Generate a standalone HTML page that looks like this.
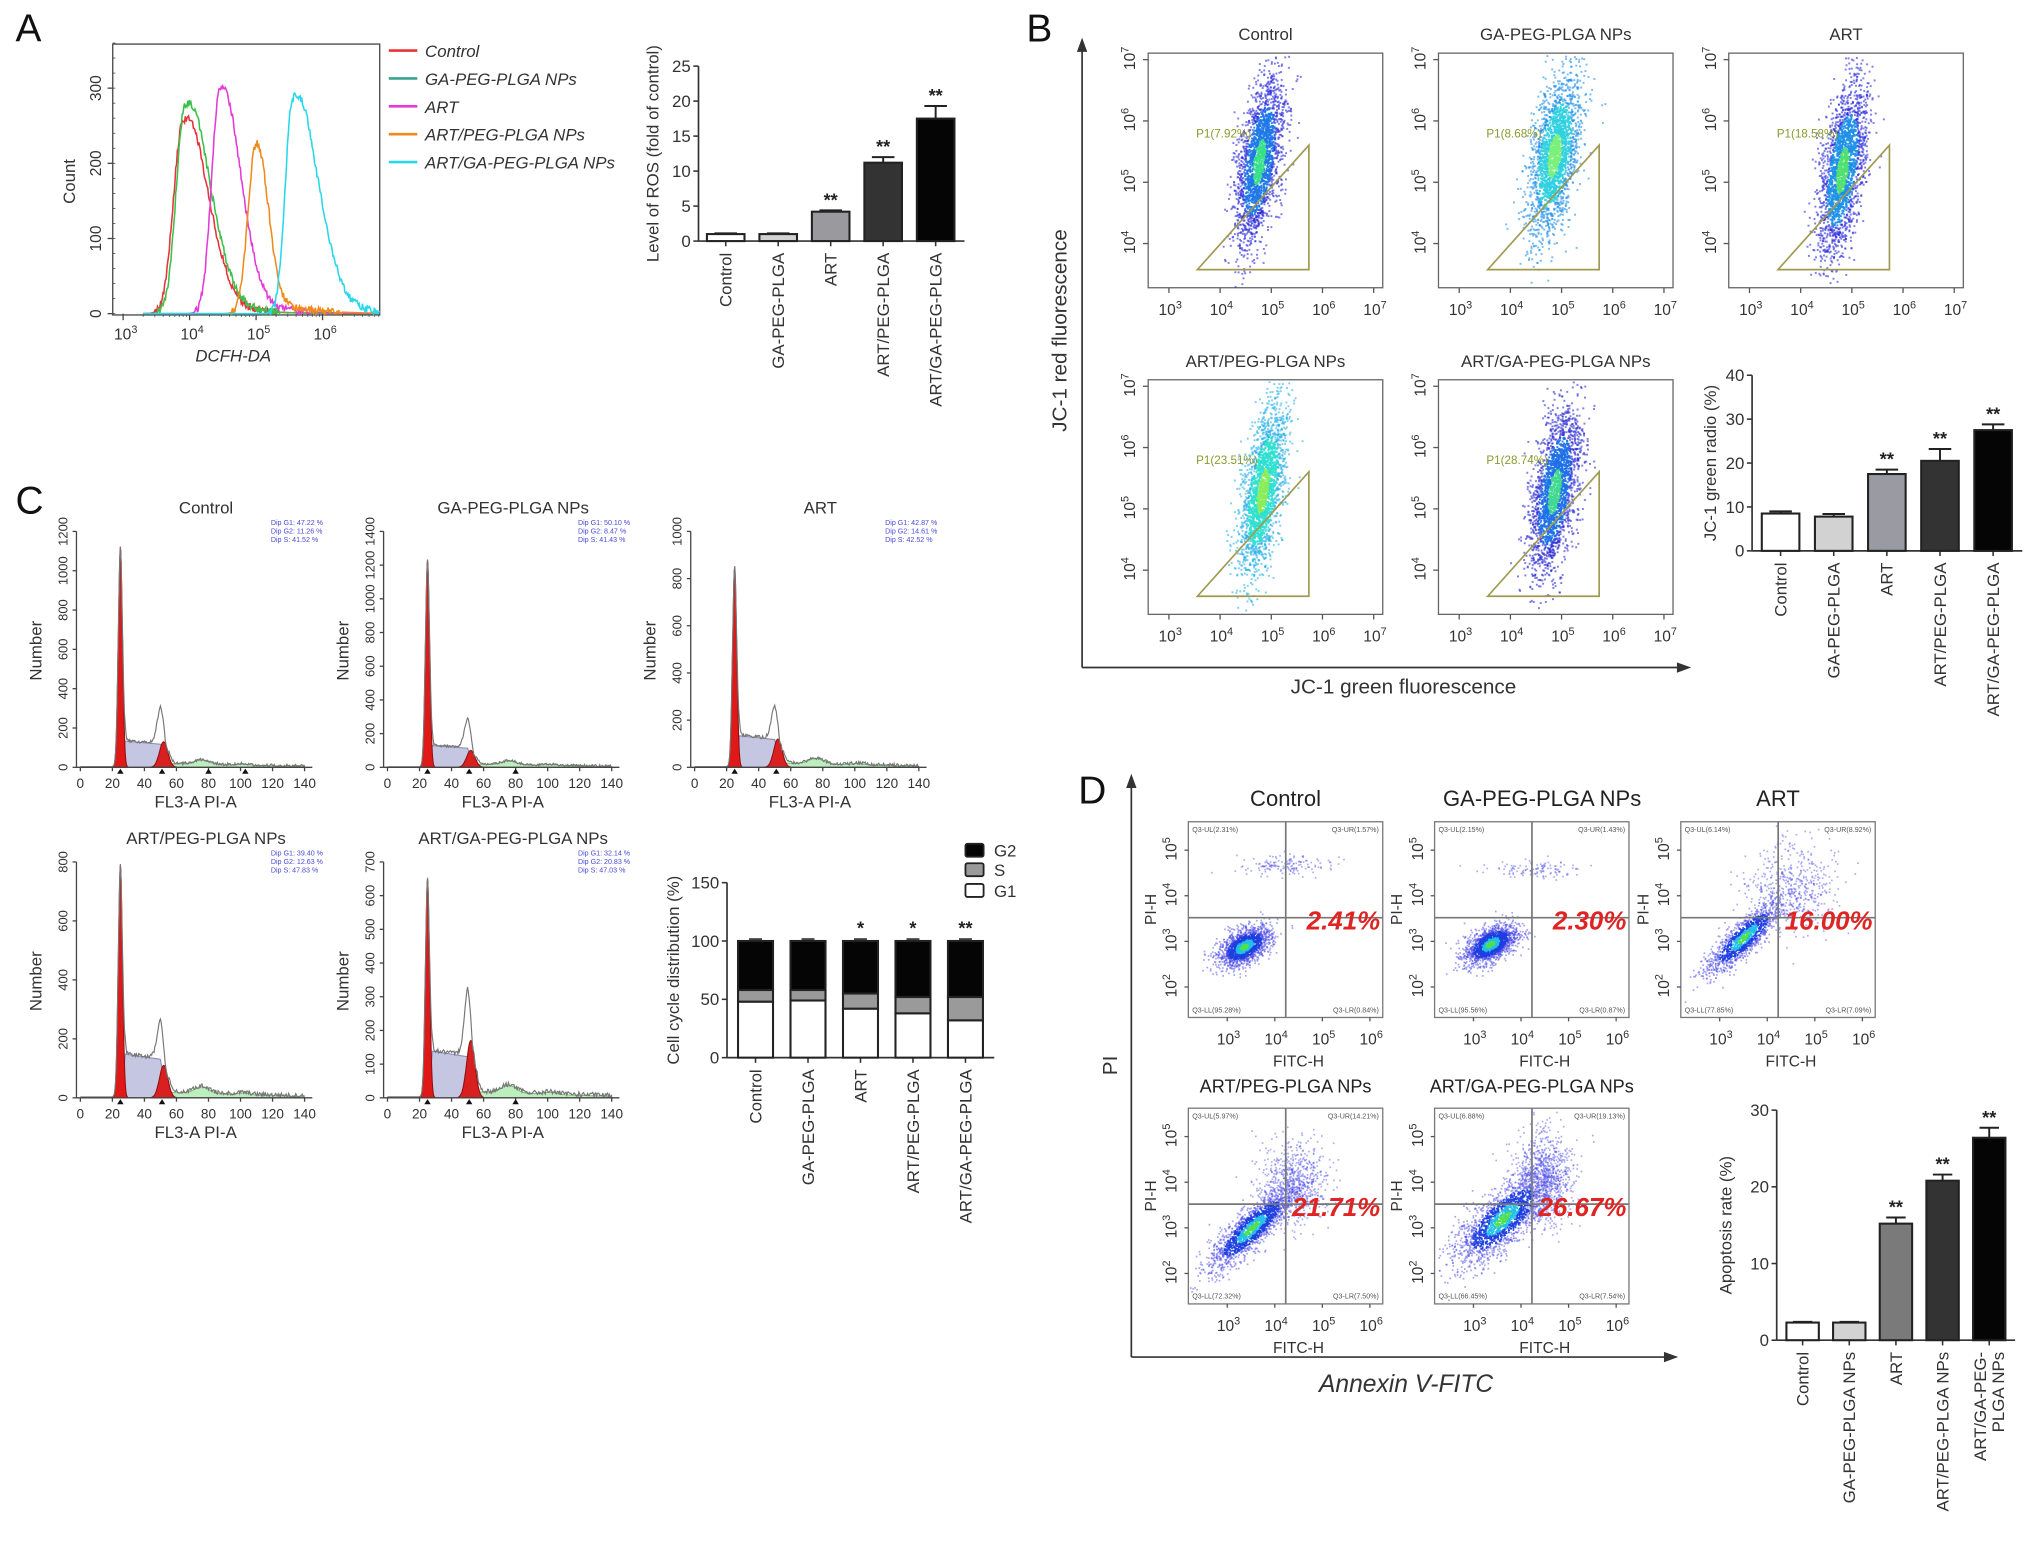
<!DOCTYPE html>
<html><head><meta charset="utf-8">
<style>
html,body{margin:0;padding:0;background:#fff;}
svg{display:block;font-family:"Liberation Sans",Arial,sans-serif;}
</style></head>
<body>
<svg id="fig" width="2032" height="1545" viewBox="0 0 1568 1192" preserveAspectRatio="none" xmlns="http://www.w3.org/2000/svg">
<rect x="0" y="0" width="1568" height="1192" fill="#fff"/>
</svg>
<script>
// ---------------- DATA ----------------
// Panel A ROS bar chart
const rosCats=['Control','GA-PEG-PLGA','ART','ART/PEG-PLGA','ART/GA-PEG-PLGA'];
const rosVals=[1.0,1.0,4.2,11.2,17.5];
const rosErrs=[0.1,0.1,0.2,0.8,1.8];
const rosStars=['','','**','**','**'];
const rosTicks=[0,5,10,15,20,25];
// Panel A histogram legend + peak parameters (log10 centre, peak count)
const histNames=['Control','GA-PEG-PLGA NPs','ART','ART/PEG-PLGA NPs','ART/GA-PEG-PLGA NPs'];
const histPeakLog=[3.9,3.93,4.45,5.0,5.55];
const histPeakCount=[255,275,295,225,285];
const histTicks=[0,100,200,300];
// Panel B JC-1 bar chart
const jcCats=['Control','GA-PEG-PLGA','ART','ART/PEG-PLGA','ART/GA-PEG-PLGA'];
const jcVals=[8.5,7.8,17.5,20.5,27.5];
const jcErrs=[0.5,0.6,1.0,2.7,1.3];
const jcStars=['','','**','**','**'];
const jcTicks=[0,10,20,30,40];
const jcP1=['7.92%','8.68%','18.58%','23.51%','28.74%'];
const jcTitles=['Control','GA-PEG-PLGA NPs','ART','ART/PEG-PLGA NPs','ART/GA-PEG-PLGA NPs'];
// Panel C cell cycle
const ccCats=['Control','GA-PEG-PLGA','ART','ART/PEG-PLGA','ART/GA-PEG-PLGA'];
const ccG1=[48,49,42,38,32];
const ccS=[10,9,13,14,20];
const ccG2=[42,42,45,48,48];
const ccStars=['','','*','*','**'];
const ccTicks=[0,50,100,150];
const ccYmax=[1200,1400,1000,800,700];
const ccG1Peak=[1120,1230,850,790,650];
const ccG2Peak=[130,100,120,110,170];
const ccOutline=[330,310,280,280,350];
const ccSlev=[135,130,135,150,140];
const ccDip=[['47.22','11.26','41.52'],['50.10','8.47','41.43'],['42.87','14.61','42.52'],['39.40','12.63','47.83'],['32.14','20.83','47.03']];
// Panel D apoptosis
const apCats=['Control','GA-PEG-PLGA NPs','ART','ART/PEG-PLGA NPs','ART/GA-PEG-PLGA NPs'];
const apVals=[2.3,2.3,15.2,20.8,26.4];
const apErrs=[0.1,0.1,0.8,0.8,1.3];
const apStars=['','','**','**','**'];
const apTicks=[0,10,20,30];
const apPct=['2.41%','2.30%','16.00%','21.71%','26.67%'];
const apQuad=[['2.31%','1.57%','95.28%','0.84%'],['2.15%','1.43%','95.56%','0.87%'],['6.14%','8.92%','77.85%','7.09%'],['5.97%','14.21%','72.32%','7.50%'],['6.88%','19.13%','66.45%','7.54%']];

// ---------------- HELPERS ----------------
const NS='http://www.w3.org/2000/svg';
const svg=document.getElementById('fig');
function mk(tag,attrs,parent){const e=document.createElementNS(NS,tag);for(const k in attrs)e.setAttribute(k,attrs[k]);(parent||svg).appendChild(e);return e;}
function txt(x,y,s,attrs,parent){const t=mk('text',Object.assign({x:x,y:y},attrs||{}),parent);t.textContent=s;return t;}
function pw(x,y,exp,attrs,parent){const t=mk('text',Object.assign({x:x,y:y},attrs||{}),parent);t.appendChild(document.createTextNode('10'));const ts=document.createElementNS(NS,'tspan');ts.setAttribute('dy','-5');ts.setAttribute('font-size','70%');ts.textContent=exp;t.appendChild(ts);return t;}
let seed=12345;
function rnd(){seed=(seed*1103515245+12345)%2147483648;return seed/2147483648;}
function gauss(){let u=rnd()||1e-6,v=rnd();return Math.sqrt(-2*Math.log(u))*Math.cos(2*Math.PI*v);}
function group(name){const g=mk('g',{});return g;}

function barChart(o){
  const g=group(o.name);
  const ys=v=>o.y0-(v/o.vmax)*(o.y0-o.yTop);
  const n=o.cats.length;
  const ax=mk('line',{x1:o.ax,y1:o.y0,x2:o.ax,y2:ys(o.vmax),stroke:'#333','stroke-width':1.3},g);
  
  const xl=mk('line',{x1:o.ax,y1:o.y0,x2:o.c0+o.step*(n-1)+o.step/2+2,y2:o.y0,stroke:'#333','stroke-width':1.3},g);
  
  o.ticks.forEach(t=>{mk('line',{x1:o.ax-4,y1:ys(t),x2:o.ax,y2:ys(t),stroke:'#333','stroke-width':1.2},g);
    const tl=txt(o.ax-6,ys(t)+4.5,String(t),{'font-size':o.fs||13,'text-anchor':'end',fill:'#333'},g);
    });
  for(let i=0;i<n;i++){
    const cx=o.c0+o.step*i;
    mk('line',{x1:cx,y1:o.y0,x2:cx,y2:o.y0+4,stroke:'#333','stroke-width':1.2},g);
    if(o.stack){
      let base=0;
      o.stack.forEach((arr,k)=>{const r=mk('rect',{x:cx-o.w/2,y:ys(base+arr[i]),width:o.w,height:ys(base)-ys(base+arr[i]),fill:o.stackFill[k],stroke:'#222','stroke-width':1.6},g);
        base+=arr[i];});
      mk('line',{x1:cx-5,y1:ys(base)-1.5,x2:cx+5,y2:ys(base)-1.5,stroke:'#222','stroke-width':1.2},g);
      if(o.stars[i]){const st=txt(cx,ys(base)-5,o.stars[i],{'font-size':14,'text-anchor':'middle',fill:'#222','font-weight':'bold'},g);}
    } else {
      const v=o.vals[i],e=o.errs[i];
      mk('line',{x1:cx,y1:ys(v),x2:cx,y2:ys(v+e),stroke:'#222','stroke-width':1.5},g);
      mk('line',{x1:cx-o.w*0.3,y1:ys(v+e),x2:cx+o.w*0.3,y2:ys(v+e),stroke:'#222','stroke-width':1.5},g);
      const r=mk('rect',{x:cx-o.w/2,y:ys(v),width:o.w,height:ys(0)-ys(v),fill:o.fills[i],stroke:'#222','stroke-width':1.6},g);
      
      if(o.stars[i]){const st=txt(cx,ys(v+e)-3,o.stars[i],{'font-size':14,'text-anchor':'middle',fill:'#222','font-weight':'bold'},g);}
    }
    const lines=o.cats[i].split('\n');
    lines.forEach((ln,j)=>{const yy=o.y0+9,xx=cx+4.5-(lines.length-1-j)*14+ (lines.length>1?7:0);
      const cl=txt(xx,yy,ln,{'font-size':o.fs||13,'text-anchor':'end',fill:'#333',transform:'rotate(-90 '+xx+' '+yy+')'},g);
      });
  }
  const tx=o.titleX,ty=(o.y0+o.yTop)/2+o.titleDy;
  const tt=txt(tx,ty,o.title,{'font-size':o.fs||13,'text-anchor':'middle',fill:'#333',transform:'rotate(-90 '+tx+' '+ty+')'},g);
  
}

function panelLetter(x,y,s){const t=txt(x,y,s,{'font-size':30,fill:'#111'});}

// ---------------- PANEL A ----------------
panelLetter(12,32,'A');
(function(){
  const g=group('ros-histogram');
  const X0=87,X1=293,Y0=242,YT=34;
  const xs=l=>95+(l-3)*51.3, ys=c=>Y0-c*0.58;
  mk('rect',{x:X0,y:YT,width:X1-X0,height:Y0-YT+1,fill:'none',stroke:'#444','stroke-width':1},g);
  histTicks.forEach(t=>{mk('line',{x1:X0-4,y1:ys(t),x2:X0,y2:ys(t),stroke:'#444'},g);
    const yy=ys(t),xx=78;const tl=txt(xx,yy,String(t),{'font-size':12,'text-anchor':'middle',fill:'#333',transform:'rotate(-90 '+xx+' '+yy+')'},g);});
  for(let c=0;c<=360;c+=20)mk('line',{x1:X0,y1:ys(c),x2:X0+2,y2:ys(c),stroke:'#444','stroke-width':0.6},g);
  [3,4,5,6].forEach(e=>{mk('line',{x1:xs(e),y1:Y0,x2:xs(e),y2:Y0+5,stroke:'#444'},g);
    for(let k=2;k<10;k++){const xx=xs(e+Math.log10(k));if(xx<X1)mk('line',{x1:xx,y1:Y0,x2:xx,y2:Y0+2.5,stroke:'#444','stroke-width':0.6},g);}
    const tl=pw(xs(e)-7,Y0+20,String(e),{'font-size':12,fill:'#333'},g);});
  const xt=txt(180,279,'DCFH-DA',{'font-size':13,'font-style':'italic','text-anchor':'middle',fill:'#333'},g);
  const yt=txt(58,140,'Count',{'font-size':13,'text-anchor':'middle',fill:'#333',transform:'rotate(-90 58 140)'},g);
  const cols=['#e8333a','#3cc04b','#e43ad8','#f08a1c','#28d8ea'];
  const legCols=['#e8333a','#3aa28f','#e43ad8','#f08a1c','#28d8ea'];
  const sigL=[0.14,0.13,0.12,0.12,0.11],sigR=[0.36,0.36,0.3,0.17,0.36];
  histNames.forEach((nm,i)=>{
    let d='';seed=100+i*77;
    for(let l=3.3;l<=6.86;l+=0.012){const dl=l-histPeakLog[i];const s=dl<0?sigL[i]:sigR[i];
      let c=histPeakCount[i]*Math.exp(-dl*dl/(2*s*s));if(dl>0)c+=histPeakCount[i]*0.12*Math.exp(-dl/0.5)*(dl>0.2?1:dl/0.2);c+= (c>2? (rnd()-0.5)*10:0);if(c<0)c=0;
      d+=(d?'L':'M')+xs(l).toFixed(1)+' '+ys(c).toFixed(1);}
    const p=mk('path',{d:d,fill:'none',stroke:cols[i],'stroke-width':1.2},g);
    
    const ly=39+i*21.5;
    mk('line',{x1:300,y1:ly,x2:322,y2:ly,stroke:legCols[i],'stroke-width':2},g);
    const lt=txt(328,ly+5,nm,{'font-size':13,'font-style':'italic',fill:'#333'},g);
  });
})();
barChart({name:'ros-bar-chart',ax:539,y0:186,yTop:51,vmax:25,ticks:rosTicks,c0:560,step:40.5,w:29,cats:rosCats,vals:rosVals,errs:rosErrs,stars:rosStars,fills:['#fff','#d2d2d2','#9a9a9e','#333','#050505'],title:'Level of ROS (fold of control)',titleX:508,titleDy:0,fs:13});

// ---------------- PANEL B ----------------
panelLetter(792,32,'B');
(function(){
  const g=group('jc1-axes');
  mk('line',{x1:835,y1:515,x2:835,y2:36,stroke:'#333','stroke-width':1.3},g);
  mk('path',{d:'M831 40 L835 29 L839 40 Z',fill:'#333'},g);
  mk('line',{x1:835,y1:515,x2:1298,y2:515,stroke:'#333','stroke-width':1.3},g);
  mk('path',{d:'M1294 511 L1305 515 L1294 519 Z',fill:'#333'},g);
  const a=txt(823,255,'JC-1 red fluorescence',{'font-size':16,'text-anchor':'middle',fill:'#333',transform:'rotate(-90 823 255)'},g);
  const b=txt(1083,535,'JC-1 green fluorescence',{'font-size':16,'text-anchor':'middle',fill:'#333'},g);
})();
const jcCloud=[[4.75,5.35,0.2,0.68],[4.85,5.45,0.22,0.66],[4.8,5.2,0.2,0.7],[4.82,5.3,0.19,0.68],[4.85,5.3,0.21,0.68]];
const jcPal=[['#36e08a','#1e78e8','#2a2ad8'],['#7af07a','#30d0e0','#2090e8'],['#50e070','#1e90e8','#2a2ad8'],['#8aec5a','#30e0d0','#28b0e8'],['#40d890','#1e70e8','#2828d0']];
jcTitles.forEach((tt,i)=>{
  const g=group('jc1-scatter-'+i);
  const bx=886+224*(i%3),by=41+252*Math.floor(i/3),bw=181,bh=181;
  const xs=l=>bx+16+(l-3)*39.5, ys=l=>by+5+(7-l)*47.3;
  const t=txt(bx+bw/2,by-10,tt,{'font-size':13,'text-anchor':'middle',fill:'#333'},g);
  mk('rect',{x:bx,y:by,width:bw,height:bh,fill:'#fff',stroke:'#666','stroke-width':1},g);
  [3,4,5,6,7].forEach(e=>{mk('line',{x1:xs(e),y1:by+bh,x2:xs(e),y2:by+bh+4,stroke:'#555'},g);
    const tl=pw(xs(e)-8,by+bh+21,String(e),{'font-size':12,fill:'#333'},g);});
  [4,5,6,7].forEach(e=>{mk('line',{x1:bx-4,y1:ys(e),x2:bx,y2:ys(e),stroke:'#555'},g);
    const xx=bx-10,yy=ys(e)+8;const tl=pw(xx,yy,String(e),{'font-size':12,fill:'#333',transform:'rotate(-90 '+xx+' '+yy+')'},g);});
  seed=900+i*131;const c=jcCloud[i],pal=jcPal[i];
  const cg=mk('g',{},g);
  for(let k=0;k<2200;k++){const a=gauss(),b=gauss();const lx=c[0]+c[2]*a+0.12*b,ly=c[1]+c[3]*b;
    const r=Math.sqrt(a*a+b*b);const col=r<0.55?pal[0]:(r<1.3?pal[1]:pal[2]);
    const px=xs(lx),py=ys(ly);if(px<bx+1||px>bx+bw-1||py<by+1||py>by+bh-1)continue;
    mk('rect',{x:px.toFixed(1),y:py.toFixed(1),width:1.5,height:1.5,fill:col,opacity:r<1.3?0.9:0.6},cg);}
  const gate=mk('path',{d:'M'+(bx+38)+' '+(by+167)+' L'+(bx+124)+' '+(by+167)+' L'+(bx+124)+' '+(by+71)+' Z',fill:'none',stroke:'#a09a50','stroke-width':1.3},g);
  
  const pl=txt(bx+37,by+65,'P1('+jcP1[i]+')',{'font-size':9,fill:'#8a9a30'},g);
});
barChart({name:'jc1-bar-chart',ax:1352,y0:425,yTop:289.5,vmax:40,ticks:jcTicks,c0:1374,step:41,w:29,cats:jcCats,vals:jcVals,errs:jcErrs,stars:jcStars,fills:['#fff','#d2d2d2','#9a9aa2','#333','#050505'],title:'JC-1 green radio (%)',titleX:1324,titleDy:0,fs:13});

// ---------------- PANEL C ----------------
panelLetter(12,396,'C');
const ccTitles=['Control','GA-PEG-PLGA NPs','ART','ART/PEG-PLGA NPs','ART/GA-PEG-PLGA NPs'];
ccTitles.forEach((tt,i)=>{
  const g=group('cell-cycle-histogram-'+i);
  const ax=59+237*(i%3),base=592+255*Math.floor(i/3),top=base-182;
  const xs=u=>ax+3+u*1.236, ys=v=>base-v/ccYmax[i]*182;
  const t=txt(ax+100,top-14,tt,{'font-size':13,'text-anchor':'middle',fill:'#333'},g);
  const g1=u=>ccG1Peak[i]*Math.exp(-Math.pow(u-25,2)/(2*1.3*1.3));
  const g2=u=>ccG2Peak[i]*Math.exp(-Math.pow(u-52,2)/(2*2.6*2.6));
  const sp=u=>(u>26&&u<54)?ccSlev[i]*(1-0.15*(u-26)/28)*(u<28?(u-26)/2:1)*(u>50?(54-u)/4:1):0;
  const g2o=u=>(ccOutline[i]-ccSlev[i]*0.87)*Math.exp(-Math.pow(u-50.5,2)/(2*2.4*2.4));
  const gr=u=>u>55?(18+28*Math.exp(-Math.pow(u-76,2)/40)+10*Math.exp(-Math.pow(u-102,2)/30))*Math.max(0,1-(u-55)/110):0;
  function area(f,u0,u1,fill,stroke,name){let d='M'+xs(u0)+' '+base;for(let u=u0;u<=u1;u+=0.25)d+='L'+xs(u).toFixed(1)+' '+ys(f(u)).toFixed(1);d+='L'+xs(u1)+' '+base+'Z';
    const p=mk('path',{d:d,fill:fill,stroke:stroke,'stroke-width':0.8},g);}
  area(sp,26,54,'#c4c6e2','#8a8ab0','s-phase-area');
  area(gr,55,140,'#bdeebd','#7ac07a','aneuploid-area');
  area(g1,20,30,'#e01818','#901010','g1-peak');
  area(g2,44,60,'#d82020','#901010','g2-peak');
  seed=400+i*51;let d='';
  for(let u=0;u<=140;u+=0.5){let v=g1(u)+Math.max(sp(u)+g2o(u)*0.9,g2(u))+gr(u)+3;v+= (u>27?(rnd()-0.5)*14:0);if(v<0)v=0;d+=(d?'L':'M')+xs(u).toFixed(1)+' '+ys(v).toFixed(1);}
  const ol=mk('path',{d:d,fill:'none',stroke:'#777','stroke-width':0.9},g);
  mk('line',{x1:ax,y1:base,x2:ax,y2:top,stroke:'#444'},g);
  mk('line',{x1:ax,y1:base,x2:ax+182,y2:base,stroke:'#444'},g);
  const step=ccYmax[i]<=700?100:200;
  for(let v=0;v<=ccYmax[i];v+=step){mk('line',{x1:ax-3,y1:ys(v),x2:ax,y2:ys(v),stroke:'#444'},g);
    const xx=ax-7,yy=ys(v);const tl=txt(xx,yy,String(v),{'font-size':10,'text-anchor':'middle',fill:'#333',transform:'rotate(-90 '+xx+' '+yy+')'},g);}
  for(let u=0;u<=140;u+=20){mk('line',{x1:xs(u),y1:base,x2:xs(u),y2:base+3,stroke:'#444'},g);
    const tl=txt(xs(u),base+16,String(u),{'font-size':10.5,'text-anchor':'middle',fill:'#333'},g);}
  [25,51].concat(i===0?[80,103]:(i===1||i===4?[80]:[])).forEach(u=>mk('path',{d:'M'+(xs(u)-2.5)+' '+(base+5)+' L'+xs(u)+' '+(base+1)+' L'+(xs(u)+2.5)+' '+(base+5)+'Z',fill:'#111'},g));
  const xt=txt(ax+92,base+31,'FL3-A PI-A',{'font-size':13,'text-anchor':'middle',fill:'#333'},g);
  const yx=ax-27,yy=base-90;const yt=txt(yx,yy,'Number',{'font-size':13,'text-anchor':'middle',fill:'#333',transform:'rotate(-90 '+yx+' '+yy+')'},g);
  ['Dip G1: '+ccDip[i][0]+' %','Dip G2: '+ccDip[i][1]+' %','Dip S: '+ccDip[i][2]+' %'].forEach((s,k)=>{const d2=txt(ax+150,top-5+k*6.5,s,{'font-size':5.5,fill:'#4848d8'},g);});
});
barChart({name:'cell-cycle-bar-chart',ax:561,y0:816,yTop:681,vmax:150,ticks:ccTicks,c0:583,step:40.5,w:27,cats:ccCats,stack:[ccG1,ccS,ccG2],stackFill:['#fff','#9a9a9a','#050505'],stackNames:['g1','s','g2'],stars:ccStars,title:'Cell cycle distribution (%)',titleX:524,titleDy:0,fs:13});
(function(){const g=group('cell-cycle-legend');
  [['G2','#050505',656],['S','#9a9a9a',671],['G1','#fff',687]].forEach(a=>{mk('rect',{x:745,y:a[2]-5,width:14,height:10,fill:a[1],stroke:'#222','stroke-width':1.4,rx:1.5},g);
    const t=txt(767,a[2]+5,a[0],{'font-size':13,fill:'#333'},g);});})();

// ---------------- PANEL D ----------------
panelLetter(832,620,'D');
(function(){
  const g=group('apoptosis-axes');
  mk('line',{x1:873,y1:1047,x2:873,y2:604,stroke:'#333','stroke-width':1.3},g);
  mk('path',{d:'M869 608 L873 597 L877 608 Z',fill:'#333'},g);
  mk('line',{x1:873,y1:1047,x2:1288,y2:1047,stroke:'#333','stroke-width':1.3},g);
  mk('path',{d:'M1284 1043 L1295 1047 L1284 1051 Z',fill:'#333'},g);
  const a=txt(862,822,'PI',{'font-size':16,'text-anchor':'middle',fill:'#333',transform:'rotate(-90 862 822)'},g);
  const b=txt(1085,1074,'Annexin V-FITC',{'font-size':19,'font-style':'italic','text-anchor':'middle',fill:'#333'},g);
})();
const apTitles=['Control','GA-PEG-PLGA NPs','ART','ART/PEG-PLGA NPs','ART/GA-PEG-PLGA NPs'];
const apBlob=[[3.35,2.9,0.28,0.22,0.5,1600],[3.35,2.95,0.28,0.22,0.5,1600],[3.5,3.1,0.4,0.4,0.85,1300],[3.5,3.0,0.45,0.45,0.85,1700],[3.6,3.2,0.5,0.5,0.75,1900]];
const apUpper=[[4.2,4.7,0.45,0.12,150],[4.3,4.6,0.45,0.1,120],[4.5,4.2,0.5,0.5,500],[4.4,4.0,0.35,0.45,700],[4.45,4.1,0.3,0.5,900]];
apTitles.forEach((tt,i)=>{
  const g=group('apoptosis-scatter-'+i);
  const bx=917+190*(i%3),by=634+221*Math.floor(i/3),bw=150,bh=151;
  const xs=l=>bx+30+(l-3)*36.7, ys=l=>by+127.5-(l-2)*35.2;
  const t=txt(bx+bw/2-(i===1?-8:0),by-12,tt,{'font-size':i<3?17:14,'text-anchor':'middle',fill:'#222'},g);
  mk('rect',{x:bx,y:by,width:bw,height:bh,fill:'#fff',stroke:'#777','stroke-width':1},g);
  seed=2000+i*97;
  const cg=mk('g',{},g);
  const B=apBlob[i],U=apUpper[i];
  function dot(lx,ly,col,op){const px=xs(lx),py=ys(ly);if(px<bx+1||px>bx+bw-1||py<by+1||py>by+bh-1)return;mk('rect',{x:px.toFixed(1),y:py.toFixed(1),width:1.3,height:1.3,fill:col,opacity:op},cg);}
  for(let k=0;k<U[4];k++){dot(U[0]+U[2]*gauss(),U[1]+U[3]*gauss(),'#4a4ae8',0.45);}
  for(let k=0;k<B[5];k++){const a=gauss(),b=gauss();const lx=B[0]+B[2]*a,ly=B[1]+B[3]*(B[4]*a+Math.sqrt(1-B[4]*B[4])*b);
    const r=Math.sqrt(a*a+b*b);const col=r<0.35?'#50e050':(r<0.7?'#20c0e8':(r<1.3?'#1e3ee0':'#4a4ae8'));dot(lx,ly,col,r<1.3?0.9:0.5);}
  const qx=xs(4.23),qy=ys(3.52);
  mk('line',{x1:qx,y1:by,x2:qx,y2:by+bh,stroke:'#777','stroke-width':1.3},g);
  mk('line',{x1:bx,y1:qy,x2:bx+bw,y2:qy,stroke:'#777','stroke-width':1.3},g);
  const q=apQuad[i];
  [['Q3-UL('+q[0]+')',bx+3,by+8,'start'],['Q3-UR('+q[1]+')',bx+bw-3,by+8,'end'],['Q3-LL('+q[2]+')',bx+3,by+bh-4,'start'],['Q3-LR('+q[3]+')',bx+bw-3,by+bh-4,'end']].forEach(a=>{
    const ql=txt(a[1],a[2],a[0],{'font-size':5.5,fill:'#555','text-anchor':a[3]},g);});
  const pt=txt(bx+bw-2,qy+9,apPct[i],{'font-size':20,'font-weight':'bold','font-style':'italic',fill:'#e02424','text-anchor':'end'},g);
  [3,4,5,6].forEach(e=>{mk('line',{x1:xs(e),y1:by+bh,x2:xs(e),y2:by+bh+3,stroke:'#555'},g);
    const tl=pw(xs(e)-8,by+bh+21,String(e),{'font-size':12,fill:'#333'},g);});
  [2,3,4,5].forEach(e=>{mk('line',{x1:bx-3,y1:ys(e),x2:bx,y2:ys(e),stroke:'#555'},g);
    const xx=bx-9,yy=ys(e)+8;const tl=pw(xx,yy,String(e),{'font-size':12,fill:'#333',transform:'rotate(-90 '+xx+' '+yy+')'},g);});
  const fx=txt(bx+bw/2+10,by+bh+38,'FITC-H',{'font-size':12,'text-anchor':'middle',fill:'#333'},g);
  const px=bx-25,py=ys(3.7);const pi=txt(px,py,'PI-H',{'font-size':12,'text-anchor':'middle',fill:'#333',transform:'rotate(-90 '+px+' '+py+')'},g);
});
barChart({name:'apoptosis-bar-chart',ax:1371,y0:1034,yTop:856.5,vmax:30,ticks:apTicks,c0:1391,step:36,w:25,cats:['Control','GA-PEG-PLGA NPs','ART','ART/PEG-PLGA NPs','ART/GA-PEG-\nPLGA NPs'],vals:apVals,errs:apErrs,stars:apStars,fills:['#fff','#d2d2d2','#7a7a7a','#333','#050505'],title:'Apoptosis rate (%)',titleX:1336,titleDy:0,fs:13});
</script>
</body></html>
